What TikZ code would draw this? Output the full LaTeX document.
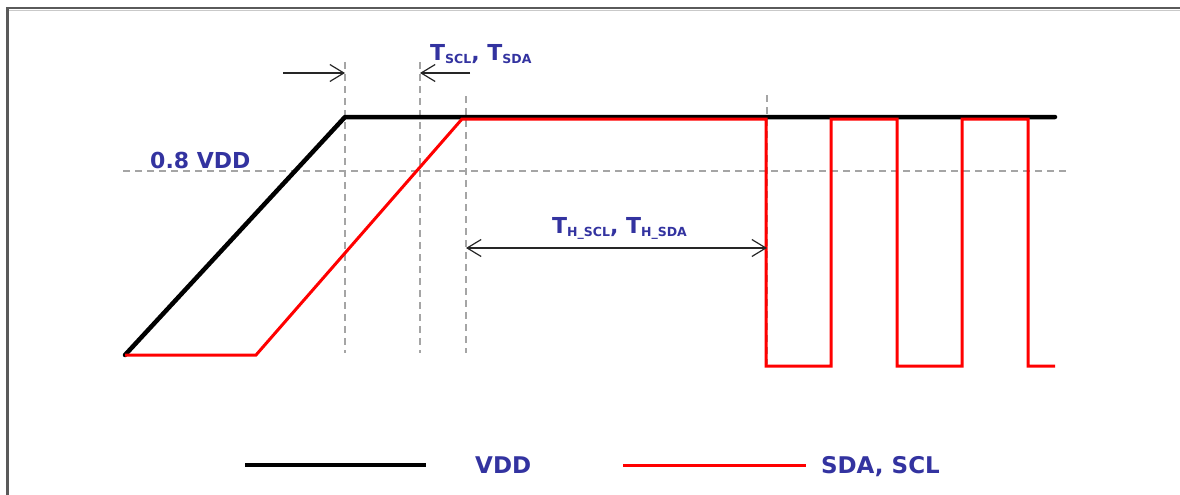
\documentclass[tikz,border=0pt]{standalone}
\usepackage{fontspec}
\setmainfont{DejaVu Sans}
\usetikzlibrary{arrows.meta}
\definecolor{lblblue}{RGB}{51,51,160}
\definecolor{guidegray}{RGB}{165,165,165}
\definecolor{framegray}{RGB}{90,90,90}
\newcommand\subtxt[1]{\raisebox{-3pt}{\fontsize{12.5}{12.5}\selectfont #1}}
\begin{document}
\begin{tikzpicture}[x=1pt,y=-1pt,
  vddline/.style={line width=4.5pt, black, line join=round, line cap=round},
  sigline/.style={line width=3pt, red, line join=miter},
  guide/.style={guidegray, line width=1.5pt, dash pattern=on 7pt off 5pt},
  dimarrow/.style={line width=1.2pt, black!85, -{Straight Barb[length=14pt,width=17pt]}},
  dimboth/.style={line width=1.2pt, black!85, {Straight Barb[length=14pt,width=17pt]}-{Straight Barb[length=14pt,width=17pt]}},
  lbl/.style={text=lblblue, font=\bfseries\fontsize{22}{22}\selectfont, inner sep=0pt},
  framel/.style={framegray, line width=2.5pt}]
\useasboundingbox (0,0) rectangle (1180,495);
% frame
\coordinate (fTL) at (7.5,8);
\coordinate (fTR) at (1180,8);
\coordinate (fBL) at (7.5,495);
\draw[framel] (fTR) -- (fTL) -- (fBL);
\draw[guidegray!60, line width=1pt] (9,10.5) -- (1180,10.5);
% guides
\coordinate (g1t) at (345,62);  \coordinate (g1b) at (345,353);
\coordinate (g2t) at (420,62);  \coordinate (g2b) at (420,353);
\coordinate (g3t) at (466,96);  \coordinate (g3b) at (466,353);
\coordinate (g4t) at (767,95);  \coordinate (g4b) at (767,364);
\coordinate (hL) at (123,171);  \coordinate (hR) at (1070,171);
\draw[guide] (g1t) -- (g1b);
\draw[guide] (g2t) -- (g2b);
\draw[guide] (g3t) -- (g3b);
\draw[guide] (g4t) -- (g4b);
\draw[guide] (hL) -- (hR);
% VDD
\coordinate (v0) at (125,355);
\coordinate (v1) at (345,117);
\coordinate (v2) at (1055,117);
\draw[vddline] (v0) -- (v1) -- (v2);
% SDA/SCL
\coordinate (s0) at (125,355);
\coordinate (s1) at (256,355);
\coordinate (s2) at (462,119);
\coordinate (s3) at (766,119);
\coordinate (s4) at (766,366);
\coordinate (s5) at (831,366);
\coordinate (s6) at (831,119);
\coordinate (s7) at (897,119);
\coordinate (s8) at (897,366);
\coordinate (s9) at (962,366);
\coordinate (s10) at (962,119);
\coordinate (s11) at (1028,119);
\coordinate (s12) at (1028,366);
\coordinate (s13) at (1055,366);
\draw[sigline] (s0) -- (s1) -- (s2) -- (s3) -- (s4) -- (s5) -- (s6) -- (s7) -- (s8) -- (s9) -- (s10) -- (s11) -- (s12) -- (s13);
% dimension arrows
\coordinate (a1s) at (283,73); \coordinate (a1e) at (345,73);
\coordinate (a2s) at (470,73); \coordinate (a2e) at (420,73);
\coordinate (a3s) at (466,248); \coordinate (a3e) at (767,248);
\draw[dimarrow] (a1s) -- (a1e);
\draw[dimarrow] (a2s) -- (a2e);
\draw[dimboth] (a3s) -- (a3e);
% labels
\node[lbl, anchor=base west] (tscl) at (430,60) {T\subtxt{SCL}, T\subtxt{SDA}};
\node[lbl, anchor=base west] (vdd08) at (150,168) {0.8 VDD};
\node[lbl, anchor=base west] (thscl) at (552,233) {T\subtxt{H\_SCL}, T\subtxt{H\_SDA}};
% legend
\coordinate (l1a) at (245,465); \coordinate (l1b) at (426,465);
\coordinate (l2a) at (623,465); \coordinate (l2b) at (806,465);
\draw[line width=4.5pt, black] (l1a) -- (l1b);
\draw[line width=3pt, red] (l2a) -- (l2b);
\node[lbl, anchor=base west, font=\bfseries\fontsize{23}{23}\selectfont] (legvdd) at (475,473) {VDD};
\node[lbl, anchor=base east, font=\bfseries\fontsize{23}{23}\selectfont] (legsda) at (940,473) {SDA, SCL};
\end{tikzpicture}
\end{document}
